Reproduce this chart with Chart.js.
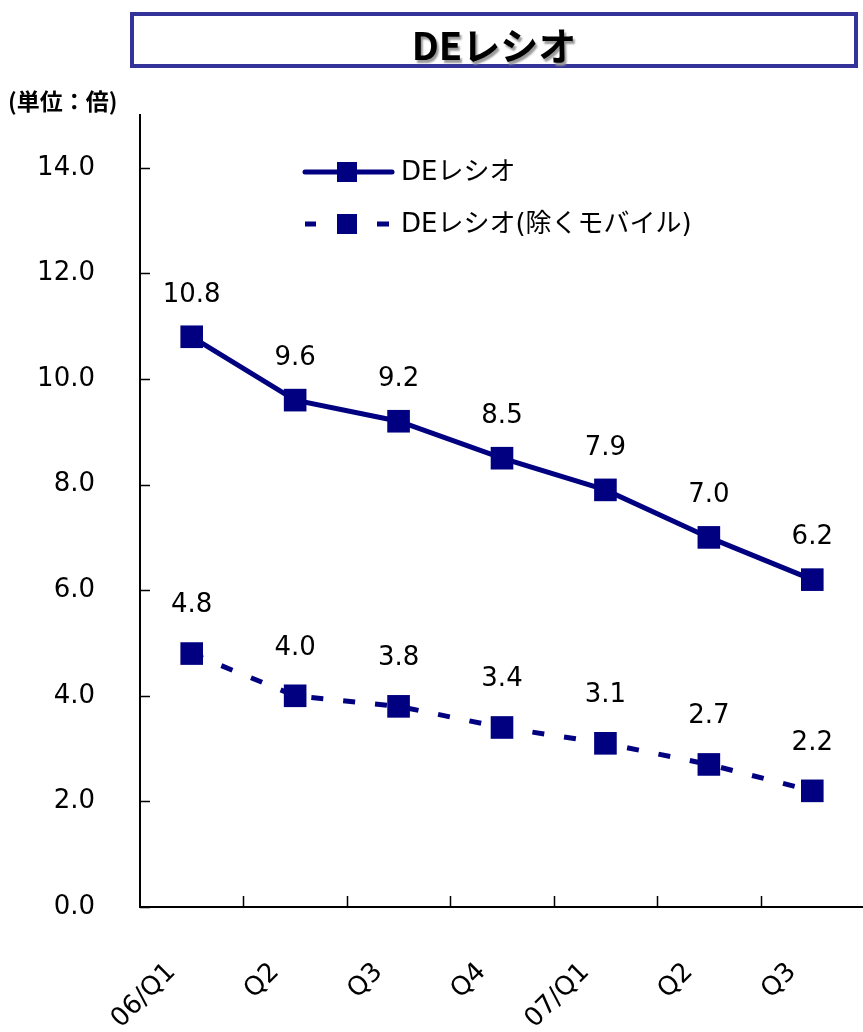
<!DOCTYPE html>
<html>
<head>
<meta charset="utf-8">
<script src="https://cdn.jsdelivr.net/npm/chart.js@4.4.1/dist/chart.umd.min.js"></script>
<style>
  html, body { margin: 0; padding: 0; background: #fff; overflow: hidden; }
  #wrap { position: relative; width: 863px; height: 1032px; overflow: hidden; }
  #chart { position: absolute; left: 0; top: 0; }
  .title-box {
    position: absolute; left: 130px; top: 12px; width: 720px; height: 48px;
    border: 4px solid #333399; background: #fff;
    text-align: center; line-height: 44px;
    font: bold 38px "Noto Sans CJK JP", "DejaVu Sans", sans-serif;
    color: #000; text-shadow: 2px 3px 2px #999;
  }
  .unit {
    position: absolute; left: 8px; top: 83px;
    font: bold 23px "Noto Sans CJK JP", "DejaVu Sans", sans-serif;
  }
</style>
</head>
<body>
<div id="wrap">
  <canvas id="chart" width="880" height="1032"></canvas>
  <div class="title-box">DEレシオ</div>
  <div class="unit">(単位：倍)</div>
</div>
<script>
// chart data
const quarters = ['06/Q1', 'Q2', 'Q3', 'Q4', '07/Q1', 'Q2', 'Q3'];
const deRatio = [10.8, 9.6, 9.2, 8.5, 7.9, 7.0, 6.2];
const deRatioExMobile = [4.8, 4.0, 3.8, 3.4, 3.1, 2.7, 2.2];
const yTickValues = [0, 2, 4, 6, 8, 10, 12, 14];
const seriesNames = ['DEレシオ', 'DEレシオ(除くモバイル)'];

const NAVY = '#000080';
const FONT = '"DejaVu Sans", "Noto Sans CJK JP", sans-serif';

// inward tick marks on both axes
const innerTicks = {
    id: 'innerTicks',
    afterDraw(chart) {
        const ctx = chart.ctx;
        const x = chart.scales.x, y = chart.scales.y;
        const area = chart.chartArea;
        ctx.save();
        ctx.strokeStyle = '#000';
        ctx.lineWidth = 1.5;
        ctx.beginPath();
        for (let i = 1; i <= quarters.length; i++) {
            const px = Math.round(x.getPixelForValue(i - 0.5)) + 0.5;
            ctx.moveTo(px, area.bottom);
            ctx.lineTo(px, area.bottom - 11);
        }
        yTickValues.forEach(v => {
            const py = Math.round(y.getPixelForValue(v)) + 0.5;
            ctx.moveTo(area.left, py);
            ctx.lineTo(area.left + 10, py);
        });
        ctx.stroke();
        ctx.restore();
    }
};

// value labels above each point
const valueLabels = {
    id: 'valueLabels',
    afterDatasetsDraw(chart) {
        const ctx = chart.ctx;
        ctx.save();
        ctx.font = '26px ' + FONT;
        ctx.fillStyle = '#000';
        ctx.textAlign = 'center';
        ctx.textBaseline = 'middle';
        const lift = [42, 48];
        chart.data.datasets.forEach((ds, di) => {
            chart.getDatasetMeta(di).data.forEach((pt, i) => {
                ctx.fillText(ds.data[i].toFixed(1), pt.x, pt.y - lift[di]);
            });
        });
        ctx.restore();
    }
};

// legend drawn inside the plot, upper left
const insideLegend = {
    id: 'insideLegend',
    afterDraw(chart) {
        const ctx = chart.ctx;
        const rows = [172, 224];
        ctx.save();
        ctx.strokeStyle = NAVY;
        ctx.fillStyle = NAVY;
        ctx.lineWidth = 5;
        ctx.lineCap = 'round';
        ctx.beginPath();
        ctx.moveTo(305, rows[0]);
        ctx.lineTo(392, rows[0]);
        ctx.stroke();
        ctx.lineCap = 'butt';
        ctx.beginPath();
        ctx.moveTo(305, rows[1]); ctx.lineTo(316, rows[1]);
        ctx.moveTo(377, rows[1]); ctx.lineTo(389, rows[1]);
        ctx.stroke();
        rows.forEach(ry => ctx.fillRect(337, ry - 10, 20, 20));
        ctx.fillStyle = '#000';
        ctx.font = '26px ' + FONT;
        ctx.textBaseline = 'middle';
        ctx.fillText(seriesNames[0], 401, rows[0] + 1);
        ctx.fillText(seriesNames[1], 401, rows[1] + 1);
        ctx.restore();
    }
};

new Chart(document.getElementById('chart'), {
    type: 'line',
    data: {
        labels: quarters,
        datasets: [{
            label: seriesNames[0],
            data: deRatio,
            borderColor: NAVY,
            backgroundColor: NAVY,
            borderWidth: 5,
            pointStyle: 'rect',
            pointRadius: 16,
            pointBorderWidth: 0,
            tension: 0
        }, {
            label: seriesNames[1],
            data: deRatioExMobile,
            borderColor: NAVY,
            backgroundColor: NAVY,
            borderWidth: 5,
            borderDash: [12, 20],
            pointStyle: 'rect',
            pointRadius: 16,
            pointBorderWidth: 0,
            tension: 0
        }]
    },
    options: {
        responsive: false,
        animation: false,
        layout: { padding: { top: 115, right: 9, left: 0, bottom: 0 } },
        plugins: {
            legend: { display: false },
            tooltip: { enabled: false },
            title: { display: false }
        },
        scales: {
            x: {
                offset: true,
                grid: { display: false, offset: true },
                border: { display: true, color: '#000', width: 2 },
                ticks: {
                    color: '#000',
                    font: { family: FONT, size: 26 },
                    minRotation: 45,
                    maxRotation: 45,
                    padding: 42,
                    labelOffset: -20
                },
                afterFit(scale) { scale.height = 125; }
            },
            y: {
                min: 0,
                max: 15,
                grid: { display: false },
                border: { display: true, color: '#000', width: 2 },
                ticks: {
                    stepSize: 2,
                    color: '#000',
                    font: { family: FONT, size: 26 },
                    padding: 37,
                    callback: v => v.toFixed(1)
                },
                afterBuildTicks(scale) {
                    scale.ticks = yTickValues.map(v => ({ value: v }));
                },
                afterFit(scale) { scale.width = 140; }
            }
        }
    },
    plugins: [innerTicks, valueLabels, insideLegend]
});
</script>
</body>
</html>
